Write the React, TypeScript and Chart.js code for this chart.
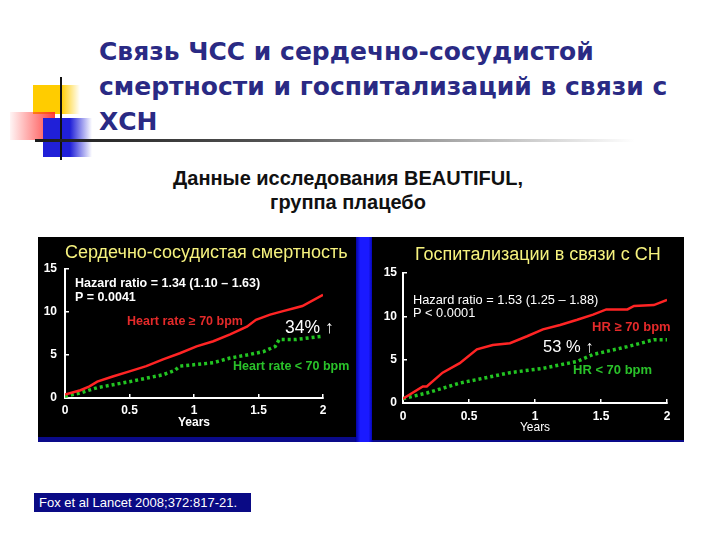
import React, { useEffect, useRef } from "react";
import { Chart, registerables } from "chart.js";

Chart.register(...registerables);

const FONT = '"Liberation Sans", Arial, Helvetica, sans-serif';

// ---- Data ----
const xTicks = [0, 0.5, 1, 1.5, 2];
const yTicks = [0, 5, 10, 15];

// Cardiovascular mortality, % (years)
const mortHighX = [0, 0.12, 0.19, 0.25, 0.37, 0.5, 0.63, 0.76, 0.89, 1.02, 1.15, 1.28, 1.41, 1.48, 1.59, 1.69, 1.79, 1.84, 2.0];
const mortHighY = [0.4, 0.9, 1.35, 1.9, 2.5, 3.1, 3.7, 4.5, 5.2, 6.0, 6.6, 7.4, 8.3, 9.1, 9.7, 10.1, 10.5, 10.7, 12.0];
const mortLowX = [0, 0.12, 0.25, 0.5, 0.76, 0.85, 0.89, 1.15, 1.28, 1.41, 1.54, 1.63, 1.66, 1.79, 2.0];
const mortLowY = [0.2, 0.6, 1.2, 1.9, 2.7, 3.2, 3.7, 4.1, 4.65, 5.0, 5.4, 6.0, 6.8, 6.8, 7.2];

// Hospitalisation for heart failure, % (years)
const hospHighX = [0, 0.15, 0.18, 0.3, 0.43, 0.56, 0.68, 0.81, 0.94, 1.06, 1.19, 1.32, 1.44, 1.54, 1.7, 1.75, 1.9, 2.0];
const hospHighY = [0.5, 1.9, 1.9, 3.5, 4.6, 6.2, 6.7, 6.9, 7.7, 8.5, 9.0, 9.6, 10.2, 10.8, 10.8, 11.2, 11.3, 11.9];
const hospLowX = [0, 0.18, 0.43, 0.56, 0.81, 1.06, 1.32, 1.44, 1.7, 1.9, 2.0];
const hospLowY = [0.5, 1.15, 2.3, 2.7, 3.5, 4.0, 4.8, 5.6, 6.5, 7.3, 7.3];

const RED = "#ff2424";
const GREEN = "#22c422";
const YELLOW = "#f6f27e";

type Note = { text: string; x: number; y: number; color: string; font: string };

const zip = (xs: number[], ys: number[]) => xs.map((x, i) => ({ x, y: ys[i] }));

function notesPlugin(notes: Note[]) {
  return {
    id: "notes",
    afterDraw(chart: any) {
      const ctx = chart.ctx as CanvasRenderingContext2D;
      ctx.save();
      ctx.textAlign = "left";
      ctx.textBaseline = "middle";
      notes.forEach((n) => {
        ctx.font = n.font;
        ctx.fillStyle = n.color;
        ctx.fillText(n.text, n.x, n.y);
      });
      ctx.restore();
    },
  };
}

type PanelProps = {
  left: number;
  top: number;
  width: number;
  height: number;
  highX: number[];
  highY: number[];
  lowX: number[];
  lowY: number[];
  padTop: number;
  padRight: number;
  yWidth: number;
  xHeight: number;
  xPad: number;
  yPad: number;
  titlePad: number;
  titleBold: boolean;
  notes: Note[];
};

function Panel(p: PanelProps) {
  const ref = useRef<HTMLCanvasElement | null>(null);
  useEffect(() => {
    if (!ref.current) return;
    const tickFont = { family: FONT, size: 12, weight: "bold" as const };
    const chart = new Chart(ref.current, {
      type: "line",
      data: {
        datasets: [
          {
            data: zip(p.highX, p.highY),
            borderColor: RED,
            borderWidth: 2.5,
            pointRadius: 0,
            tension: 0,
          },
          {
            data: zip(p.lowX, p.lowY),
            borderColor: GREEN,
            borderWidth: 3.5,
            borderDash: [3, 3],
            borderCapStyle: "butt",
            pointRadius: 0,
            tension: 0,
          },
        ],
      },
      options: {
        responsive: false,
        maintainAspectRatio: false,
        animation: false,
        events: [],
        layout: { padding: { top: p.padTop, right: p.padRight, left: 0, bottom: 0 } },
        plugins: { legend: { display: false }, tooltip: { enabled: false } },
        scales: {
          x: {
            type: "linear",
            min: 0,
            max: 2,
            afterBuildTicks: (s: any) => {
              s.ticks = xTicks.map((v) => ({ value: v }));
            },
            afterFit: (s: any) => {
              s.height = p.xHeight;
            },
            border: { color: "#ffffff", width: 2 },
            grid: { drawOnChartArea: false, color: "#ffffff", tickLength: -4, lineWidth: 1.5 },
            ticks: {
              color: "#ffffff",
              font: tickFont,
              padding: p.xPad,
              maxRotation: 0,
              callback: (v: any) => String(v),
            },
            title: {
              display: true,
              text: "Years",
              color: "#ffffff",
              font: { family: FONT, size: 12, weight: p.titleBold ? "bold" : "normal" },
              padding: { top: 0, bottom: p.titlePad },
            },
          },
          y: {
            type: "linear",
            min: 0,
            max: 15,
            afterBuildTicks: (s: any) => {
              s.ticks = yTicks.map((v) => ({ value: v }));
            },
            afterFit: (s: any) => {
              s.width = p.yWidth;
            },
            border: { color: "#ffffff", width: 2 },
            grid: { drawOnChartArea: false, color: "#ffffff", tickLength: -4, lineWidth: 1.5 },
            ticks: { color: "#ffffff", font: tickFont, padding: p.yPad, callback: (v: any) => String(v) },
          },
        },
      },
      plugins: [notesPlugin(p.notes)],
    } as any);
    return () => chart.destroy();
  }, []);
  return (
    <canvas
      ref={ref}
      width={p.width}
      height={p.height}
      style={{
        position: "absolute",
        left: p.left,
        top: p.top,
        width: p.width,
        height: p.height,
        background: "#000000",
        display: "block",
      }}
    />
  );
}

const leftNotes: Note[] = [
  { text: "Сердечно-сосудистая смертность", x: 27, y: 16, color: YELLOW, font: `18px ${FONT}` },
  { text: "Hazard ratio = 1.34 (1.10 – 1.63)", x: 37, y: 47, color: "#ffffff", font: `bold 12.5px ${FONT}` },
  { text: "P = 0.0041", x: 37, y: 61, color: "#ffffff", font: `bold 12.5px ${FONT}` },
  { text: "Heart rate ≥ 70 bpm", x: 89, y: 85, color: "#e42a2a", font: `bold 12.5px ${FONT}` },
  { text: "34% ↑", x: 247, y: 91, color: "#ffffff", font: `17.5px ${FONT}` },
  { text: "Heart rate < 70 bpm", x: 195, y: 130, color: "#2ac22a", font: `bold 12.5px ${FONT}` },
];

const rightNotes: Note[] = [
  { text: "Госпитализации в связи с СН", x: 43, y: 18, color: YELLOW, font: `18px ${FONT}` },
  { text: "Hazard ratio = 1.53 (1.25 – 1.88)", x: 41, y: 63, color: "#ffffff", font: `12.8px ${FONT}` },
  { text: "P < 0.0001", x: 41, y: 76, color: "#ffffff", font: `12.8px ${FONT}` },
  { text: "HR ≥ 70 bpm", x: 220, y: 90, color: "#e42a2a", font: `bold 13px ${FONT}` },
  { text: "53 % ↑", x: 171, y: 110, color: "#ffffff", font: `16.5px ${FONT}` },
  { text: "HR < 70 bpm", x: 201, y: 133, color: "#2ac22a", font: `bold 13px ${FONT}` },
];

export default function App() {
  return (
    <div
      style={{
        position: "absolute",
        left: 0,
        top: 0,
        width: 720,
        height: 540,
        background: "#ffffff",
        overflow: "hidden",
        fontFamily: FONT,
      }}
    >
      {/* decorative squares */}
      <div
        style={{
          position: "absolute",
          left: 33,
          top: 85,
          width: 47,
          height: 29,
          background: "linear-gradient(to right, #ffcc00 0%, #ffcc00 60%, rgba(255,204,0,0) 100%)",
        }}
      />
      <div
        style={{
          position: "absolute",
          left: 10,
          top: 112,
          width: 45,
          height: 28,
          background: "linear-gradient(to right, rgba(255,60,60,0.05) 0%, rgba(255,40,40,0.9) 100%)",
        }}
      />
      <div
        style={{
          position: "absolute",
          left: 43,
          top: 118,
          width: 49,
          height: 39,
          background: "linear-gradient(to right, #2020d8 0%, #2020d8 55%, rgba(32,32,216,0) 100%)",
        }}
      />
      <div style={{ position: "absolute", left: 60, top: 77, width: 2, height: 83, background: "#111111" }} />
      <div
        style={{
          position: "absolute",
          left: 35,
          top: 139,
          width: 600,
          height: 3,
          background: "linear-gradient(to right, #1a1a1a 0%, #555555 40%, rgba(200,200,200,0) 100%)",
        }}
      />

      {/* title */}
      <div
        style={{
          position: "absolute",
          left: 99,
          top: 34,
          width: 620,
          fontFamily: '"DejaVu Sans", Verdana, sans-serif',
          fontSize: 25,
          lineHeight: "35px",
          fontWeight: "bold",
          color: "#2a2a84",
          whiteSpace: "nowrap",
        }}
      >
        Связь ЧСС и сердечно-сосудистой
        <br />
        смертности и госпитализаций в связи с
        <br />
        ХСН
      </div>

      {/* subtitle */}
      <div
        style={{
          position: "absolute",
          left: 148,
          top: 166,
          width: 400,
          textAlign: "center",
          fontSize: 20,
          lineHeight: "24px",
          fontWeight: "bold",
          color: "#111111",
          whiteSpace: "nowrap",
        }}
      >
        Данные исследования BEAUTIFUL,
        <br />
        группа плацебо
      </div>

      {/* panel backdrop: blue separator + bottom strip */}
      <div
        style={{
          position: "absolute",
          left: 38,
          top: 436,
          width: 646,
          height: 6,
          background: "#0a0a8a",
        }}
      />
      <div
        style={{
          position: "absolute",
          left: 355,
          top: 237,
          width: 18,
          height: 205,
          background: "linear-gradient(to right, #00008c 0%, #1a1aff 30%, #1a1aff 75%, #0000a0 100%)",
        }}
      />

      <Panel
        left={38}
        top={237}
        width={318}
        height={200}
        highX={mortHighX}
        highY={mortHighY}
        lowX={mortLowX}
        lowY={mortLowY}
        padTop={32}
        padRight={33}
        yWidth={27}
        xHeight={39}
        xPad={9}
        yPad={12}
        titlePad={7}
        titleBold={true}
        notes={leftNotes}
      />
      <Panel
        left={372}
        top={237}
        width={312}
        height={203}
        highX={hospHighX}
        highY={hospHighY}
        lowX={hospLowX}
        lowY={hospLowY}
        padTop={36}
        padRight={17}
        yWidth={31}
        xHeight={37}
        xPad={10}
        yPad={10}
        titlePad={5}
        titleBold={false}
        notes={rightNotes}
      />

      {/* citation */}
      <div
        style={{
          position: "absolute",
          left: 34,
          top: 493,
          width: 217,
          height: 19,
          background: "#0a0a85",
          color: "#ffffff",
          fontSize: 13,
          lineHeight: "19px",
          paddingLeft: 5,
          boxSizing: "border-box",
          whiteSpace: "nowrap",
        }}
      >
        Fox et al Lancet 2008;372:817-21.
      </div>
    </div>
  );
}
